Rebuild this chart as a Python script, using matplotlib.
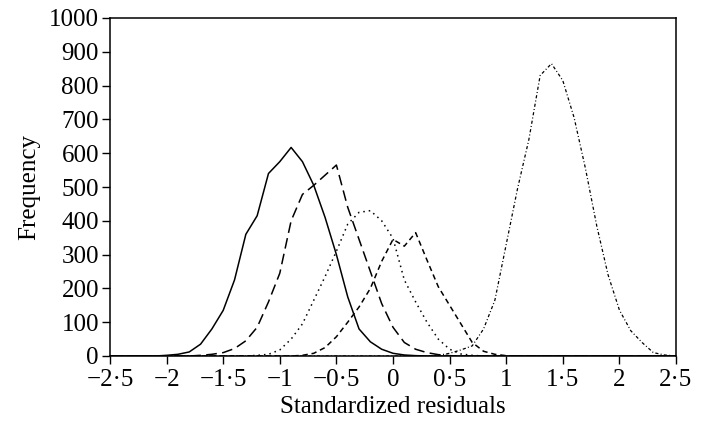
import numpy as np
import matplotlib.pyplot as plt

plt.rcParams['font.family'] = ['Liberation Serif', 'DejaVu Serif']

# Frequency of standardized residuals (bins of 0.1)
grid_x = list(np.round(np.arange(-2.5, 2.51, 0.1), 1))

def series(points):
    # points: {x: frequency}; bins not listed are zero
    return [points.get(v, 0) for v in grid_x]

solid_pts = {-2.0: 2, -1.9: 5, -1.8: 12, -1.7: 35, -1.6: 80, -1.5: 135, -1.4: 225,
             -1.3: 360, -1.2: 415, -1.1: 540, -1.0: 575, -0.9: 617, -0.8: 575,
             -0.7: 505, -0.6: 410, -0.5: 300, -0.4: 175, -0.3: 80, -0.2: 42,
             -0.1: 20, 0.0: 8, 0.1: 3, 0.2: 1}
longdash_pts = {-1.7: 2, -1.6: 5, -1.5: 10, -1.4: 22, -1.3: 45, -1.2: 85, -1.1: 160,
                -1.0: 245, -0.9: 400, -0.8: 478, -0.7: 505, -0.6: 535, -0.5: 565,
                -0.4: 440, -0.3: 345, -0.2: 250, -0.1: 155, 0.0: 85, 0.1: 40,
                0.2: 20, 0.3: 10, 0.4: 4, 0.5: 1}
dotted_pts = {-1.2: 2, -1.1: 5, -1.0: 18, -0.9: 50, -0.8: 95, -0.7: 165, -0.6: 235,
              -0.5: 310, -0.4: 390, -0.3: 425, -0.2: 430, -0.1: 400, 0.0: 348,
              0.1: 225, 0.2: 160, 0.3: 100, 0.4: 50, 0.5: 20, 0.6: 6, 0.7: 2}
dashed_pts = {-0.8: 2, -0.7: 8, -0.6: 25, -0.5: 57, -0.4: 100, -0.3: 145, -0.2: 200,
              -0.1: 280, 0.0: 345, 0.1: 325, 0.2: 365, 0.3: 284, 0.4: 205, 0.5: 150,
              0.6: 95, 0.7: 40, 0.8: 14, 0.9: 5, 1.0: 1}
dashdot_pts = {0.4: 2, 0.5: 8, 0.6: 18, 0.7: 30, 0.8: 80, 0.9: 165, 1.0: 330,
               1.1: 495, 1.2: 640, 1.3: 830, 1.4: 865, 1.5: 815, 1.6: 705,
               1.7: 555, 1.8: 385, 1.9: 240, 2.0: 136, 2.1: 75, 2.2: 40,
               2.3: 10, 2.4: 3}

xticks = [-2.5, -2, -1.5, -1, -0.5, 0, 0.5, 1, 1.5, 2, 2.5]
xticklabels = ['\u22122\u00b75', '\u22122', '\u22121\u00b75', '\u22121', '\u22120\u00b75',
               '0', '0\u00b75', '1', '1\u00b75', '2', '2\u00b75']
yticks = list(range(0, 1001, 100))

fig = plt.figure(figsize=(7.04, 4.25), dpi=100)
ax = fig.add_axes([110 / 704, 69 / 425, 566 / 704, 338 / 425])

lw = 1.1
ax.plot(grid_x, series(solid_pts), color='black', lw=lw)
ax.plot(grid_x, series(longdash_pts), color='black', lw=lw, dashes=(7, 3.5))
ax.plot(grid_x, series(dotted_pts), color='black', lw=lw, dashes=(1, 2.6))
ax.plot(grid_x, series(dashed_pts), color='black', lw=lw, dashes=(3.5, 2.5))
ax.plot(grid_x, series(dashdot_pts), color='black', lw=0.9, dashes=(2.5, 1.8, 0.8, 1.8))

ax.set_xlim(-2.5, 2.5)
ax.set_ylim(0, 1000)
ax.set_xticks(xticks)
ax.set_xticklabels(xticklabels)
ax.set_yticks(yticks)
ax.tick_params(direction='out', length=6, width=1, labelsize=18, colors='black')
ax.tick_params(axis='x', pad=3)
ax.tick_params(axis='y', pad=2)
for s in ax.spines.values():
    s.set_linewidth(1.1)

ax.set_xlabel('Standardized residuals', fontsize=18, labelpad=4)
ax.set_ylabel('Frequency', fontsize=18, labelpad=6)

fig.savefig('out.png', dpi=100)
